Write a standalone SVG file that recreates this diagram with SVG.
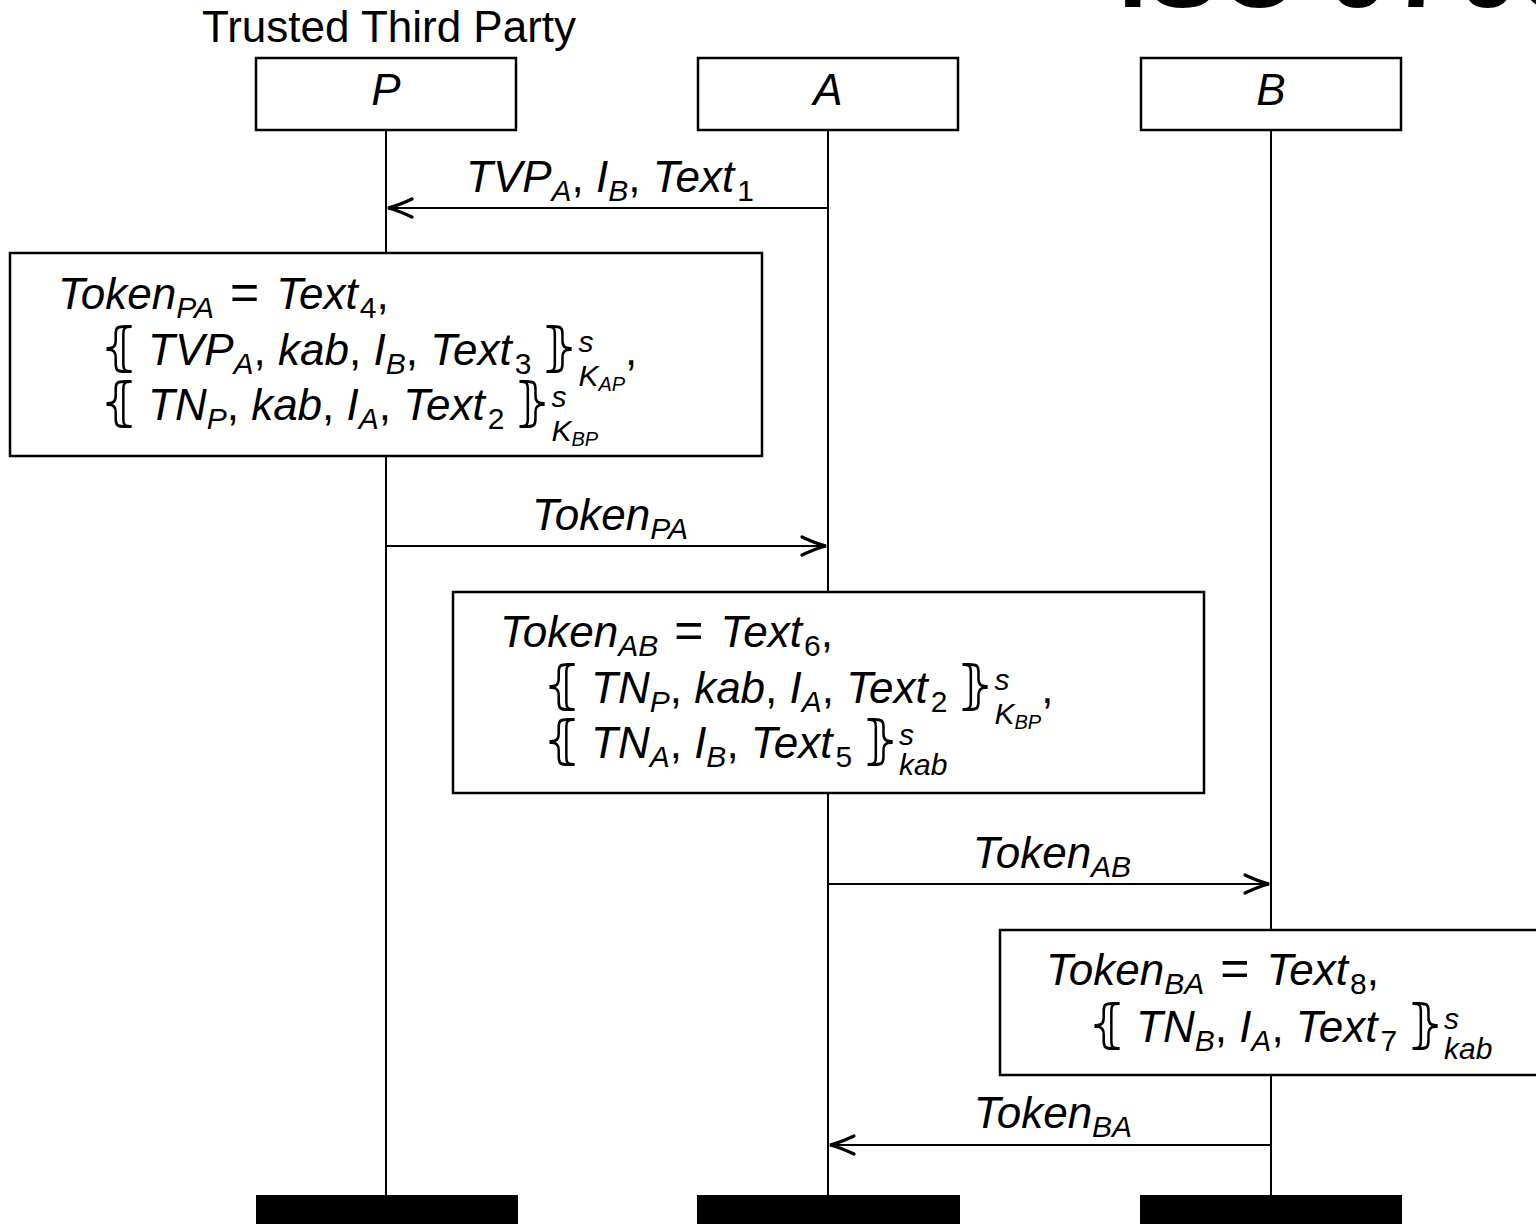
<svg xmlns="http://www.w3.org/2000/svg" width="1536" height="1224" viewBox="0 0 1536 1224">
<style>
text{font-family:"Liberation Sans",Arial,sans-serif;fill:#000}
.m{font-size:44px}
.i{font-style:italic}
.s{font-size:30px}
.ss{font-size:20px}
.eq{font-size:50px}
.br{font-family:"DejaVu Sans","Noto Sans",sans-serif;font-weight:200;font-size:52px}
.title{font-size:106px;font-weight:bold}
.hdr{font-size:44px;font-style:italic}
.plain{font-size:44px}
.box{fill:#fff;stroke:#000;stroke-width:2.5}
.life{stroke:#000;stroke-width:2;fill:none}
.msg{stroke:#000;stroke-width:2;fill:none}
.bar{fill:#000}
</style>
<defs>
<marker id="ah" markerUnits="userSpaceOnUse" markerWidth="30" markerHeight="24" viewBox="-27 -12 30 24" refX="0" refY="0" orient="auto">
<path d="M-24,-9 Q-9,-2 0,0 Q-9,2 -24,9" fill="none" stroke="#000" stroke-width="3.2" stroke-linecap="round"/>
</marker>
</defs>
<rect width="1536" height="1224" fill="#fff"/>
<text class="title" x="1118" y="7">ISO 9<tspan dx="4">7</tspan><tspan dx="8">9</tspan><tspan dx="4">8</tspan></text>
<text class="plain" x="389" y="42" text-anchor="middle">Trusted Third Party</text>

<g id="connectors">
<line class="life" x1="386" y1="130" x2="386" y2="1196"/>
<line class="life" x1="828" y1="130" x2="828" y2="1196"/>
<line class="life" x1="1271" y1="130" x2="1271" y2="1196"/>
<line class="msg" x1="828" y1="208" x2="388" y2="208" marker-end="url(#ah)"/>
<line class="msg" x1="386" y1="546" x2="826" y2="546" marker-end="url(#ah)"/>
<line class="msg" x1="828" y1="884" x2="1269" y2="884" marker-end="url(#ah)"/>
<line class="msg" x1="1271" y1="1145" x2="830" y2="1145" marker-end="url(#ah)"/>
<text class="m" x="610" y="192" text-anchor="middle"><tspan class="i">TVP</tspan><tspan class="i s" dy="9">A</tspan><tspan dy="-9">, </tspan><tspan class="i">I</tspan><tspan class="i s" dy="9">B</tspan><tspan dy="-9">, </tspan><tspan class="i">Text</tspan><tspan class="s" dx="3" dy="9">1</tspan></text>
<text class="m" x="610" y="530" text-anchor="middle"><tspan class="i">Token</tspan><tspan class="i s" dy="9">PA</tspan></text>
<text class="m" x="1052" y="868" text-anchor="middle"><tspan class="i">Token</tspan><tspan class="i s" dy="9">AB</tspan></text>
<text class="m" x="1053" y="1128" text-anchor="middle"><tspan class="i">Token</tspan><tspan class="i s" dy="9">BA</tspan></text>
</g>

<g id="node-P">
<rect class="box" x="256" y="58" width="260" height="72"/>
<text class="hdr" x="386" y="105" text-anchor="middle">P</text>
<rect class="bar" x="256" y="1195" width="262" height="40"/>
</g>
<g id="node-A">
<rect class="box" x="698" y="58" width="260" height="72"/>
<text class="hdr" x="828" y="105" text-anchor="middle">A</text>
<rect class="bar" x="697" y="1195" width="263" height="40"/>
</g>
<g id="node-B">
<rect class="box" x="1141" y="58" width="260" height="72"/>
<text class="hdr" x="1271" y="105" text-anchor="middle">B</text>
<rect class="bar" x="1140" y="1195" width="262" height="40"/>
</g>

<g id="action-P">
<rect class="box" x="10" y="253" width="752" height="203"/>
<text class="m" x="58" y="309"><tspan class="i">Token</tspan><tspan class="i s" dy="9">PA</tspan><tspan class="eq" dy="-9" dx="16">=</tspan><tspan class="i" dx="17">Text</tspan><tspan class="s" dx="2" dy="9">4</tspan><tspan dy="-9">,</tspan></text>
<text class="m" x="100" y="365"><tspan class="br">⦃</tspan><tspan dx="10" class="i">TVP</tspan><tspan class="i s" dy="9">A</tspan><tspan dy="-9">, </tspan><tspan class="i">kab</tspan><tspan>, </tspan><tspan class="i">I</tspan><tspan class="i s" dy="9">B</tspan><tspan dy="-9">, </tspan><tspan class="i">Text</tspan><tspan class="s" dx="3" dy="9">3</tspan><tspan dy="-9" dx="9" class="br">⦄</tspan><tspan class="i s" dy="-13">s</tspan><tspan class="i s" dx="-15" dy="34">K</tspan><tspan class="i ss" dy="5">AP</tspan><tspan dy="-26">,</tspan></text>
<text class="m" x="100" y="420"><tspan class="br">⦃</tspan><tspan dx="10" class="i">TN</tspan><tspan class="i s" dy="9">P</tspan><tspan dy="-9">, </tspan><tspan class="i">kab</tspan><tspan>, </tspan><tspan class="i">I</tspan><tspan class="i s" dy="9">A</tspan><tspan dy="-9">, </tspan><tspan class="i">Text</tspan><tspan class="s" dx="3" dy="9">2</tspan><tspan dy="-9" dx="9" class="br">⦄</tspan><tspan class="i s" dy="-13">s</tspan><tspan class="i s" dx="-15" dy="34">K</tspan><tspan class="i ss" dy="5">BP</tspan></text>
</g>

<g id="action-A">
<rect class="box" x="453" y="592" width="751" height="201"/>
<text class="m" x="500" y="647"><tspan class="i">Token</tspan><tspan class="i s" dy="9">AB</tspan><tspan class="eq" dy="-9" dx="16">=</tspan><tspan class="i" dx="17">Text</tspan><tspan class="s" dx="2" dy="9">6</tspan><tspan dy="-9">,</tspan></text>
<text class="m" x="543" y="703"><tspan class="br">⦃</tspan><tspan dx="10" class="i">TN</tspan><tspan class="i s" dy="9">P</tspan><tspan dy="-9">, </tspan><tspan class="i">kab</tspan><tspan>, </tspan><tspan class="i">I</tspan><tspan class="i s" dy="9">A</tspan><tspan dy="-9">, </tspan><tspan class="i">Text</tspan><tspan class="s" dx="3" dy="9">2</tspan><tspan dy="-9" dx="9" class="br">⦄</tspan><tspan class="i s" dy="-13">s</tspan><tspan class="i s" dx="-15" dy="34">K</tspan><tspan class="i ss" dy="5">BP</tspan><tspan dy="-26">,</tspan></text>
<text class="m" x="543" y="758"><tspan class="br">⦃</tspan><tspan dx="10" class="i">TN</tspan><tspan class="i s" dy="9">A</tspan><tspan dy="-9">, </tspan><tspan class="i">I</tspan><tspan class="i s" dy="9">B</tspan><tspan dy="-9">, </tspan><tspan class="i">Text</tspan><tspan class="s" dx="3" dy="9">5</tspan><tspan dy="-9" dx="9" class="br">⦄</tspan><tspan class="i s" dy="-13">s</tspan><tspan class="i s" dx="-15" dy="30">kab</tspan></text>
</g>

<g id="action-B">
<rect class="box" x="1000" y="930" width="560" height="145"/>
<text class="m" x="1046" y="985"><tspan class="i">Token</tspan><tspan class="i s" dy="9">BA</tspan><tspan class="eq" dy="-9" dx="16">=</tspan><tspan class="i" dx="17">Text</tspan><tspan class="s" dx="2" dy="9">8</tspan><tspan dy="-9">,</tspan></text>
<text class="m" x="1088" y="1042"><tspan class="br">⦃</tspan><tspan dx="10" class="i">TN</tspan><tspan class="i s" dy="9">B</tspan><tspan dy="-9">, </tspan><tspan class="i">I</tspan><tspan class="i s" dy="9">A</tspan><tspan dy="-9">, </tspan><tspan class="i">Text</tspan><tspan class="s" dx="3" dy="9">7</tspan><tspan dy="-9" dx="9" class="br">⦄</tspan><tspan class="i s" dy="-13">s</tspan><tspan class="i s" dx="-15" dy="30">kab</tspan></text>
</g>
</svg>
